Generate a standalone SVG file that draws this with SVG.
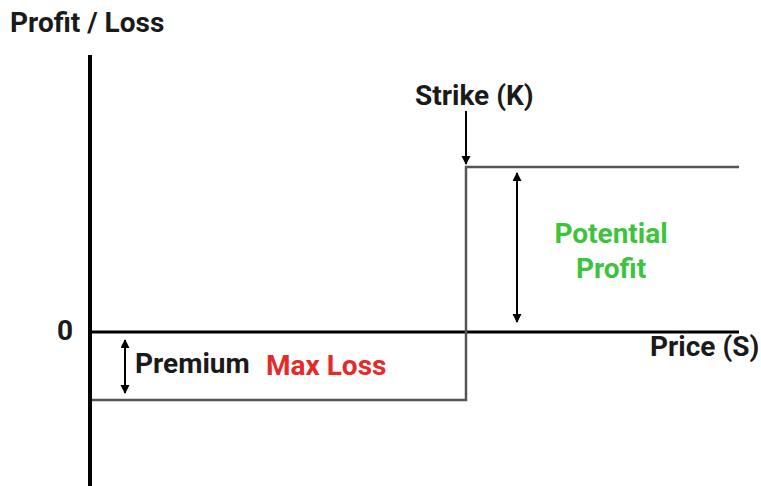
<svg xmlns="http://www.w3.org/2000/svg" width="761" height="486" viewBox="0 0 761 486">
<style>
.t{font-family:Roboto,"Liberation Sans",sans-serif;font-weight:bold;font-size:28px;fill:#1a1a1a}
.axis{stroke:#000;fill:none}
.pay{stroke:#555;stroke-width:2.5;fill:none}
.arr{stroke:#000;stroke-width:2;fill:none}
</style>
<defs>
<marker id="ah" markerWidth="10" markerHeight="10" refX="8" refY="4.5" orient="auto-start-reverse" markerUnits="userSpaceOnUse">
<path d="M0,0 L9,4.5 L0,9 Z" fill="#000"/>
</marker>
</defs>
<rect width="761" height="486" fill="#fff"/>
<g id="axes">
<line class="axis" x1="90" y1="55" x2="90" y2="486" stroke-width="4"/>
<line class="axis" x1="90" y1="332" x2="739" y2="332" stroke-width="3"/>
</g>
<g id="payoff">
<polyline class="pay" points="92,400 466,400 466,167 739,167"/>
</g>
<g id="connectors">
<line class="arr" x1="466" y1="111" x2="466" y2="164" marker-end="url(#ah)"/>
<line class="arr" x1="517" y1="173" x2="517" y2="322" marker-start="url(#ah)" marker-end="url(#ah)"/>
<line class="arr" x1="125" y1="340" x2="125" y2="393" marker-start="url(#ah)" marker-end="url(#ah)"/>
</g>
<g id="labels">
<text class="t" x="10" y="32">Profit / Loss</text>
<text class="t" x="415" y="105">Strike (K)</text>
<text class="t" x="57" y="340">0</text>
<text class="t" x="650" y="356">Price (S)</text>
<text class="t" x="135" y="373">Premium</text>
<text class="t" x="266" y="375" style="fill:#e52a2a">Max Loss</text>
<text class="t" x="611" y="243" text-anchor="middle" style="fill:#3cc43c">Potential</text>
<text class="t" x="611" y="278" text-anchor="middle" style="fill:#3cc43c">Profit</text>
</g>
</svg>
